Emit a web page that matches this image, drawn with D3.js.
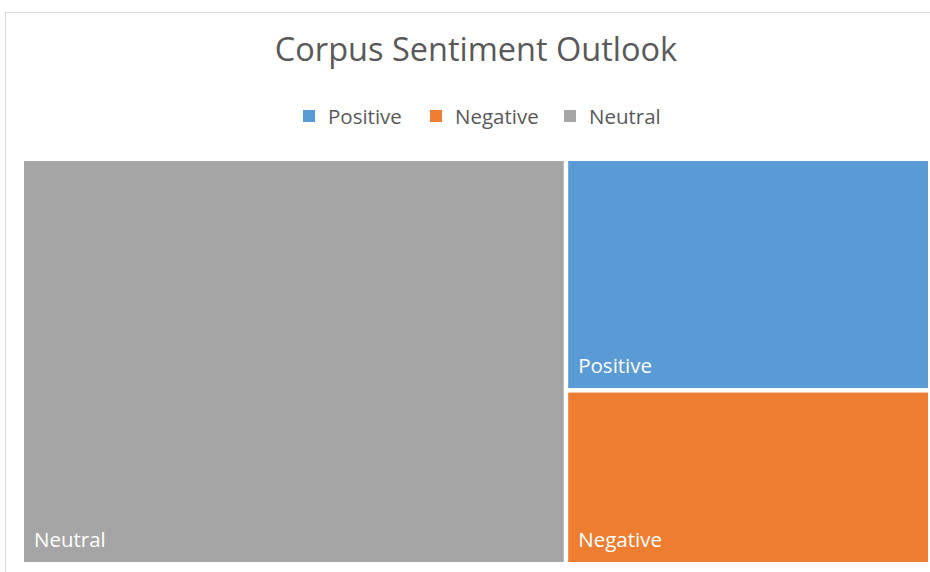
<!DOCTYPE html>
<html>
<head>
<meta charset="utf-8">
<script src="https://cdn.jsdelivr.net/npm/d3@7"></script>
<style>
  body { margin: 0; background: #ffffff; }
  text { font-family: "Open Sans", "Noto Sans", sans-serif; }
</style>
</head>
<body>
<script>
const width = 930;
const height = 572;

// data (share of corpus, %)
const categories = ["Positive", "Negative", "Neutral"];
const values = [22.9, 17.2, 59.9];
const colors = ["#5b9bd5", "#ed7d31", "#a5a5a5"];

const svg = d3.select("body").append("svg")
    .attr("width", width)
    .attr("height", height);

//chart frame
svg.append("rect")
    .attr("x", 5.5)
    .attr("y", 12.5)
    .attr("width", 960)
    .attr("height", 600)
    .attr("fill", "#ffffff")
    .attr("stroke", "#d9d9d9")
    .attr("stroke-width", 1);

//title
svg.append("text")
    .attr("x", 476)
    .attr("y", 61)
    .attr("text-anchor", "middle")
    .text("Corpus Sentiment Outlook")
    .style("font-size", "32.5px")
    .style("fill", "#595959");

//legend
const legendX = [303, 430, 564];
const legend = svg.append("g").attr("class", "legend");
categories.forEach((c, i) => {
    legend.append("rect")
        .attr("x", legendX[i])
        .attr("y", 110)
        .attr("width", 12)
        .attr("height", 12)
        .attr("fill", colors[i]);
    legend.append("text")
        .attr("x", legendX[i] + 25)
        .attr("y", 124)
        .text(c)
        .style("font-size", "20.5px")
        .style("fill", "#595959");
});

//treemap
const root = d3.hierarchy({
        children: categories.map((c, i) => ({ name: c, value: values[i], color: colors[i] }))
    })
    .sum(d => d.value)
    .sort((a, b) => b.value - a.value);

d3.treemap()
    .tile(d3.treemapBinary)
    .size([928 - 24, 562 - 161])
    .paddingInner(4.5)(root);

const tiles = svg.append("g")
    .attr("transform", "translate(24, 161)")
    .selectAll("g")
    .data(root.leaves())
    .join("g")
    .attr("transform", d => `translate(${d.x0}, ${d.y0})`);

tiles.append("rect")
    .attr("width", d => d.x1 - d.x0)
    .attr("height", d => d.y1 - d.y0)
    .attr("fill", d => d.data.color);

tiles.append("text")
    .attr("x", 10)
    .attr("y", d => d.y1 - d.y0 - 15)
    .text(d => d.data.name)
    .style("font-size", "20.5px")
    .style("fill", "#ffffff");
</script>
</body>
</html>
